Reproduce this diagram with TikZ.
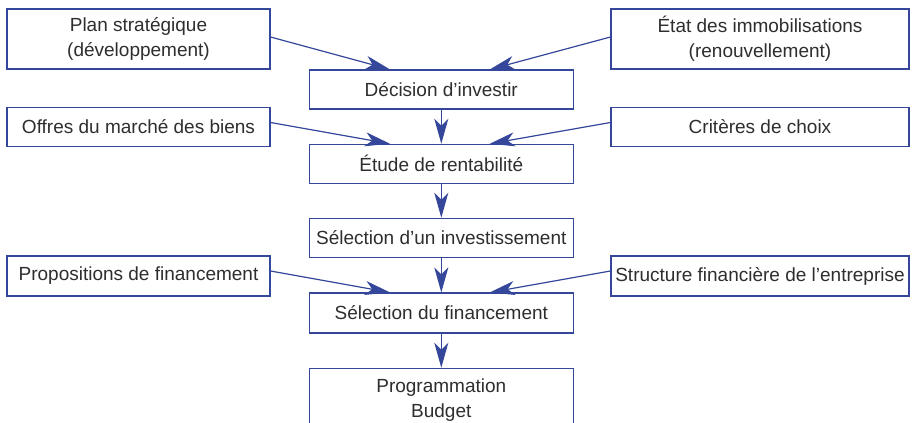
\documentclass[tikz,border=0pt]{standalone}
\usepackage{fontspec}
\setmainfont{Liberation Sans}
\usetikzlibrary{arrows.meta}
\definecolor{lineblue}{HTML}{34479A}
\definecolor{txtgray}{HTML}{2E2E2E}
\begin{document}
\begin{tikzpicture}[x=1pt,y=-1pt,
  boxstyle/.style={draw=lineblue,line width=1.1pt,fill=white,inner sep=0pt,
    text=txtgray,align=center,font=\fontsize{19}{25}\selectfont},
  arr/.style={draw=lineblue,line width=1.2pt,
    -{Stealth[length=25pt,width=14pt,inset=7pt]},lineblue}]
\path[use as bounding box,clip] (0,0) rectangle (913,423);
\fill[white] (0,0) rectangle (913,423);
% side boxes
\node[boxstyle,minimum width=263pt,minimum height=60pt] (plan) at (138.5,39) {Plan stratégique\\(développement)};
\node[boxstyle,minimum width=298pt,minimum height=60pt] (etat) at (760,39) {État des immobilisations\\(renouvellement)};
\node[boxstyle,minimum width=263pt,minimum height=39.5pt] (offres) at (138.5,127) {Offres du marché des biens};
\node[boxstyle,minimum width=298pt,minimum height=39.5pt] (crit) at (760,127) {Critères de choix};
\node[boxstyle,minimum width=263pt,minimum height=40pt] (prop) at (138.5,276) {Propositions de financement};
\node[boxstyle,minimum width=298pt,minimum height=40pt] (struc) at (760,276) {Structure financière de l’entreprise};
% central boxes
\node[boxstyle,minimum width=264pt,minimum height=39pt] (dec) at (441.3,89.5) {Décision d’investir};
\node[boxstyle,minimum width=264pt,minimum height=39pt] (etude) at (441.3,163.8) {Étude de rentabilité};
\node[boxstyle,minimum width=264pt,minimum height=39.4pt] (selinv) at (441.3,238) {Sélection d’un investissement};
\node[boxstyle,minimum width=264pt,minimum height=40pt] (selfin) at (441.3,313) {Sélection du financement};
\node[boxstyle,minimum width=264pt,minimum height=64pt] (prog) at (441.3,400.3) {Programmation\\Budget};
% arrows
\draw[arr] ([yshift=2pt]plan.east) -- ([xshift=-51.3pt]dec.north);
\draw[arr] ([yshift=2pt]etat.west) -- ([xshift=48.5pt]dec.north);
\draw[arr] ([yshift=4.5pt]offres.east) -- ([xshift=-51.3pt]etude.north);
\draw[arr] ([yshift=4.5pt]crit.west) -- ([xshift=48.5pt]etude.north);
\draw[arr] ([yshift=5pt]prop.east) -- ([xshift=-51.3pt]selfin.north);
\draw[arr] ([yshift=5pt]struc.west) -- ([xshift=48.5pt]selfin.north);
\draw[arr] (dec.south) -- (etude.north);
\draw[arr] (etude.south) -- (selinv.north);
\draw[arr] (selinv.south) -- (selfin.north);
\draw[arr] (selfin.south) -- (prog.north);
\end{tikzpicture}
\end{document}
